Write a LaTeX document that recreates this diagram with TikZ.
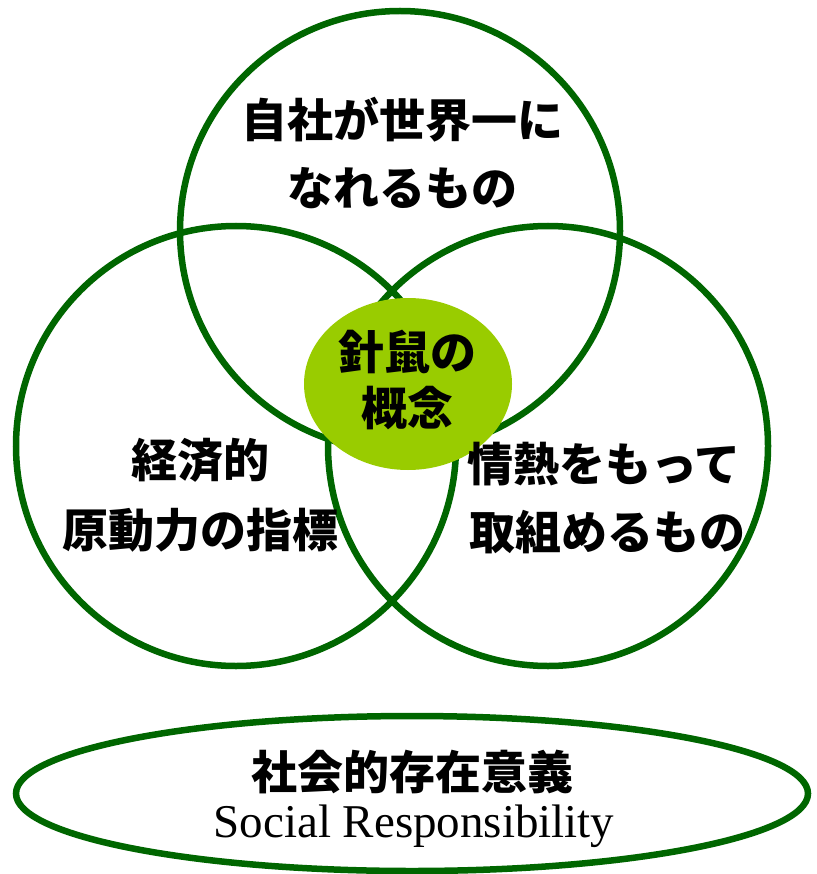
\documentclass[tikz,border=0pt]{standalone}
\usepackage{fontspec}
\setmainfont{Liberation Serif}
\newfontfamily\cjk{Noto Sans CJK JP}
\usetikzlibrary{shapes.geometric}
\definecolor{vgreen}{HTML}{006600}
\definecolor{hedge}{HTML}{99CC00}
\begin{document}
\begin{tikzpicture}[x=1pt,y=-1pt,
  ring/.style={circle,draw=vgreen,line width=6.5pt,minimum size=440pt,inner sep=0pt},
  jp/.style={font=\cjk\bfseries\fontsize{46}{56}\selectfont,inner sep=0pt,anchor=base},
  en/.style={font=\fontsize{47}{56}\selectfont,inner sep=0pt,anchor=base}]
\useasboundingbox (0,0) rectangle (816,874);
\node[ring] (topc) at (400,231) {};
\node[ring] (leftc) at (236,446) {};
\node[ring] (rightc) at (548,446) {};
\node[ellipse,fill=hedge,minimum width=208pt,minimum height=172pt,inner sep=0pt] (hub) at (408,384) {};
\node[ellipse,draw=vgreen,line width=6.5pt,minimum width=792pt,minimum height=155pt,inner sep=0pt] (base) at (412,793.5) {};
\node[jp] (t1) at (402,137.5) {自社が世界一に};
\node[jp] (t2) at (402,205.5) {なれるもの};
\node[jp] (l1) at (200,477.5) {経済的};
\node[jp] (l2) at (200,547.5) {原動力の指標};
\node[jp] (r1) at (604,481.5) {情熱をもって};
\node[jp] (r2) at (607,549.5) {取組めるもの};
\node[jp] (c1) at (407,369.5) {針鼠の};
\node[jp] (c2) at (407,425.5) {概念};
\node[jp] (b1) at (412,789) {社会的存在意義};
\node[en] (b2) at (414,837) {Social Responsibility};
\end{tikzpicture}
\end{document}
